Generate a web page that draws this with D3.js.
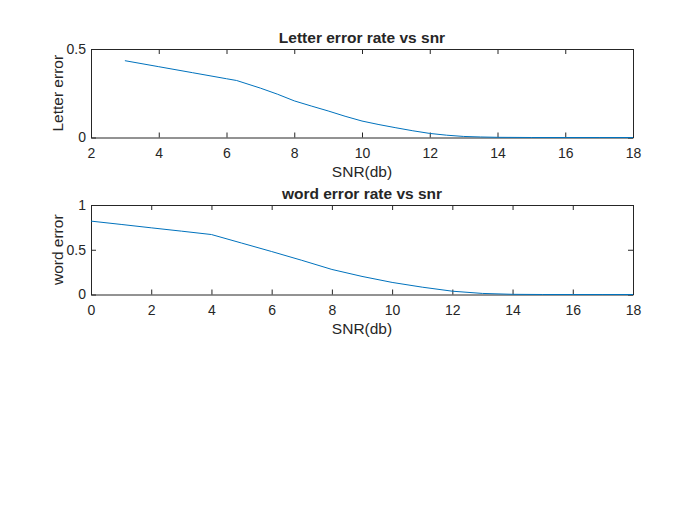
<!DOCTYPE html>
<html>
<head>
<meta charset="utf-8">
<script src="https://cdn.jsdelivr.net/npm/d3@7"></script>
<style>
  body { margin: 0; background: #fff; }
  text { font-family: "Liberation Sans", Arial, Helvetica, sans-serif; fill: #262626; }
</style>
</head>
<body>
<svg id="fig"></svg>
<script>
// letter error rate readings
const letterSnr = [3, 4, 5, 6, 6.3, 7, 7.5, 8, 8.5, 9, 9.5, 10, 10.5, 11, 11.5, 12, 12.5, 13, 13.5, 14, 15, 16, 17, 18];
const letterErr = [0.434, 0.40, 0.366, 0.332, 0.322, 0.279, 0.245, 0.207, 0.178, 0.15, 0.12, 0.093, 0.073, 0.055, 0.038, 0.023, 0.013, 0.006, 0.003, 0.001, 0, 0, 0, 0];

// word error rate readings
const wordSnr = [0, 1, 2, 3, 4, 5, 6, 7, 8, 9, 10, 11, 12, 13, 14, 15, 16, 17, 18];
const wordErr = [0.82, 0.783, 0.745, 0.708, 0.67, 0.575, 0.48, 0.382, 0.28, 0.202, 0.135, 0.082, 0.037, 0.012, 0.002, 0, 0, 0, 0];

const letterXTicks = [2, 4, 6, 8, 10, 12, 14, 16, 18];
const letterYTicks = [0, 0.5];
const wordXTicks = [0, 2, 4, 6, 8, 10, 12, 14, 16, 18];
const wordYTicks = [0, 0.5, 1];

const W = 700, H = 525;
const svg = d3.select("#fig").attr("width", W).attr("height", H);
const axisColor = "#262626";
const lineColor = "#0072BD";

function drawPanel(opts) {
  const { top, bottom, snr, err, xDomain, yDomain, xTicks, yTicks, title, yLabel } = opts;
  const left = 91, right = 633;
  const x = d3.scaleLinear().domain(xDomain).range([left, right]);
  const y = d3.scaleLinear().domain(yDomain).range([bottom, top]);
  const g = svg.append("g");
  const tickLen = 5;

  // inward ticks on all four sides, matlab style
  const fmt = d3.format("~g");
  const axes = [
    d3.axisBottom(x).tickValues(xTicks).tickSizeInner(-tickLen).tickSizeOuter(0).tickPadding(11).tickFormat(fmt),
    d3.axisTop(x).tickValues(xTicks).tickSizeInner(-tickLen).tickSizeOuter(0).tickFormat(""),
    d3.axisLeft(y).tickValues(yTicks).tickSizeInner(-tickLen).tickSizeOuter(0).tickPadding(5).tickFormat(fmt),
    d3.axisRight(y).tickValues(yTicks).tickSizeInner(-tickLen).tickSizeOuter(0).tickFormat("")
  ];
  const shifts = [`0,${bottom}`, `0,${top}`, `${left},0`, `${right},0`];
  axes.forEach((ax, i) => {
    const a = g.append("g").attr("transform", `translate(${shifts[i]})`).call(ax);
    a.select(".domain").attr("stroke", axisColor);
    a.selectAll(".tick line").attr("stroke", axisColor);
    a.selectAll(".tick text")
      .style("font-size", "14px")
      .attr("fill", axisColor)
      .style("font-family", "'Liberation Sans', Arial, sans-serif");
  });

  const line = d3.line().x((d, i) => x(snr[i])).y((d) => y(d));
  g.append("path")
    .datum(err)
    .attr("d", line)
    .attr("fill", "none")
    .attr("stroke", lineColor)
    .attr("stroke-width", 1);

  g.append("text")
    .attr("x", (left + right) / 2)
    .attr("y", top - 6)
    .attr("text-anchor", "middle")
    .style("font-size", "15.5px")
    .style("font-weight", "bold")
    .text(title);

  g.append("text")
    .attr("x", (left + right) / 2)
    .attr("y", bottom + 39)
    .attr("text-anchor", "middle")
    .style("font-size", "15.5px")
    .text("SNR(db)");

  g.append("text")
    .attr("transform", `translate(63,${(top + bottom) / 2}) rotate(-90)`)
    .attr("text-anchor", "middle")
    .style("font-size", "15.5px")
    .text(yLabel);
}

drawPanel({
  top: 49, bottom: 137.5,
  snr: letterSnr, err: letterErr,
  xDomain: [2, 18], yDomain: [0, 0.5],
  xTicks: letterXTicks, yTicks: letterYTicks,
  title: "Letter error rate vs snr", yLabel: "Letter error"
});

drawPanel({
  top: 205, bottom: 294.5,
  snr: wordSnr, err: wordErr,
  xDomain: [0, 18], yDomain: [0, 1],
  xTicks: wordXTicks, yTicks: wordYTicks,
  title: "word error rate vs snr", yLabel: "word error"
});
</script>
</body>
</html>
